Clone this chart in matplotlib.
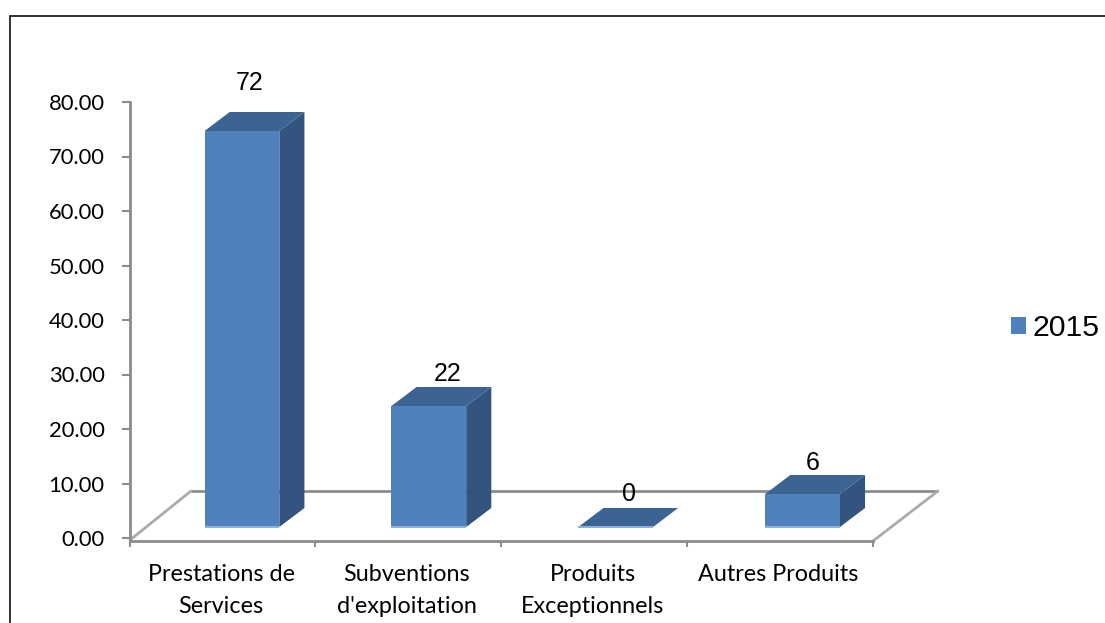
import matplotlib
matplotlib.use("Agg")
import matplotlib.pyplot as plt
from matplotlib.patches import Polygon, Patch

categories = ["Prestations de\nServices", "Subventions\nd'exploitation", "Produits\nExceptionnels", "Autres Produits"]
values = [72, 22, 0, 6]
y_ticks = [0, 10, 20, 30, 40, 50, 60, 70, 80]
series_name = "2015"

W, H = 1105, 623
FRONT, TOP, SIDE = "#4F81BD", "#3C6492", "#32547F"
GREY = "#8C8C8C"

fig = plt.figure(figsize=(W / 100, H / 100), dpi=100, facecolor="white")

def rect(l, top, r, bottom):
    return [l / W, 1 - bottom / H, (r - l) / W, (bottom - top) / H]

# page frame
bg = fig.add_axes([0, 0, 1, 1], zorder=0)
bg.set_xlim(0, W); bg.set_ylim(H, 0); bg.axis("off")
bg.plot([9.5, 9.5, W], [H, 15.5, 15.5], color="#222222", lw=1.3, solid_joinstyle="miter")
# floor outline
bg.plot([191, 938], [491, 491], color=GREY, lw=2, solid_capstyle="butt")
bg.plot([130, 191], [540, 491], color="#ABABAB", lw=2, solid_capstyle="round")
bg.plot([938, 873], [491, 541], color="#ABABAB", lw=2, solid_capstyle="round")

# value axis
ax = fig.add_axes(rect(129.5, 102, 873, 538), zorder=1)
ax.patch.set_alpha(0)
ax.set_xlim(0, 4)
ax.set_ylim(0, 80)
for s in ("top", "right", "bottom"):
    ax.spines[s].set_visible(False)
ax.spines["left"].set_color(GREY)
ax.spines["left"].set_linewidth(2)
ax.spines["left"].set_bounds(0, 80)
ax.set_yticks(y_ticks)
ax.set_yticklabels([f"{v:.2f}" for v in y_ticks], family="Lato", fontsize=15.8, color="black")
ax.tick_params(axis="y", length=5.5, width=1.5, color=GREY, pad=12.5)
ax.set_xticks([])

# category axis
cx = fig.add_axes(rect(129.5, 500, 873, 541), zorder=1)
cx.patch.set_alpha(0)
cx.set_xlim(0, 4); cx.set_ylim(0, 1)
for s in ("top", "right", "left"):
    cx.spines[s].set_visible(False)
cx.spines["bottom"].set_color(GREY)
cx.spines["bottom"].set_linewidth(2)
cx.set_yticks([])
cx.set_xticks(range(5))
cx.set_xticklabels([""] * 5)
cx.tick_params(axis="x", length=4.5, width=1.5, color=GREY)
for i, c in enumerate(categories):
    cx.annotate(c, (i + 0.5, 0), xytext=(-1, -16.5), textcoords="offset points", ha="center", va="top",
                family="Lato", fontsize=16.8, linespacing=1.66, annotation_clip=False)

# bars, on the shifted plane of the front of the 3D floor
bx = fig.add_axes(rect(148.5, 87, 896, 527), zorder=2)
bx.axis("off")
bx.set_xlim(0, 4); bx.set_ylim(0, 80)
width = 0.4
dx = 25 / 186
dy = 19 / 5.5
xs = [i + 0.5 for i in range(len(values))]
bx.bar(xs, values, width=width, color=FRONT, linewidth=0, zorder=3)
for x, v in zip(xs, values):
    l, r = x - width / 2, x + width / 2
    bx.add_patch(Polygon([(l, v), (r, v), (r + dx, v + dy), (l + dx, v + dy)], closed=True, fc=TOP, ec="none", zorder=4))
    bx.add_patch(Polygon([(r, 0), (r + dx, dy), (r + dx, v + dy), (r, v)], closed=True, fc=SIDE, ec="none", zorder=3))
    bx.plot([l, r], [0, 0], color="#8FB0DA", lw=1.5, zorder=5, clip_on=False, solid_capstyle="butt")

# data labels
label_shift = [(8, 34), (19, 18), (13, 19), (10, 17)]
for x, v, (sx, sy) in zip(xs, values, label_shift):
    bx.annotate(str(v), (x, v), xytext=(sx * 0.72, sy * 0.72 + 10), textcoords="offset points",
                ha="center", va="center", family="Liberation Sans", fontsize=18, color="black", zorder=6)

# legend
fig.legend(handles=[Patch(facecolor=FRONT, edgecolor="none", label=series_name)],
           loc="center left", bbox_to_anchor=(1002 / W, 1 - 328 / H), frameon=False,
           prop={"family": "Liberation Sans", "size": 21.8}, handlelength=0.5, handleheight=0.5,
           handletextpad=0.22, borderaxespad=0, borderpad=0.3)

fig.savefig("out.png", dpi=100, facecolor="white")
